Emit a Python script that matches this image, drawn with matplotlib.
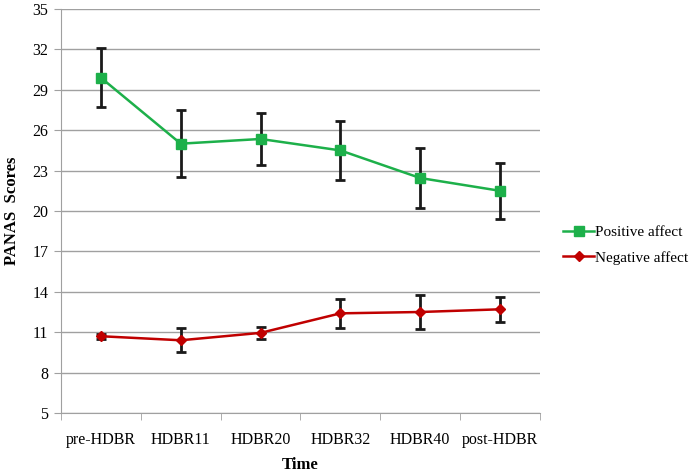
import numpy as np
import matplotlib
matplotlib.use("Agg")
from matplotlib import pyplot as plt

# dados
tempos = ["pre-HDBR", "HDBR11", "HDBR20", "HDBR32", "HDBR40", "post-HDBR"]
positivo = [29.9, 25.0, 25.35, 24.5, 22.45, 21.5]
positivo_err = [2.2, 2.5, 1.9, 2.2, 2.2, 2.1]
negativo = [10.7, 10.4, 10.95, 12.4, 12.5, 12.7]
negativo_err = [0.2, 0.9, 0.45, 1.1, 1.25, 0.95]
yticks = [5, 8, 11, 14, 17, 20, 23, 26, 29, 32, 35]

plt.rcParams['font.family'] = ['Liberation Serif', 'DejaVu Serif']

fig = plt.figure(figsize=(6.98, 4.76), dpi=100)
ax = fig.add_axes([0.0874, 0.1324, 0.6862, 0.8486])

x = np.arange(len(tempos))
cinza = '#a0a0a0'

ax.errorbar(x, positivo, yerr=positivo_err, color='#1db04a', lw=1.8,
            marker='s', ms=7, ecolor='#1a1a1a', elinewidth=2, capsize=3.5,
            capthick=2, label='Positive affect', zorder=3)
ax.errorbar(x, negativo, yerr=negativo_err, color='#c00000', lw=1.8,
            marker='D', ms=5, ecolor='#1a1a1a', elinewidth=2, capsize=3.5,
            capthick=2, label='Negative affect', zorder=3)

ax.set_xlim(-0.5, len(tempos) - 0.5)
ax.set_ylim(5, 35)
ax.set_yticks(yticks)
ax.yaxis.grid(True, color=cinza, lw=1)
ax.set_axisbelow(True)

ax.set_xticks(x)
ax.set_xticklabels(tempos)
ax.set_xticks(np.arange(len(tempos) + 1) - 0.5, minor=True)
ax.tick_params(axis='x', which='major', length=0, pad=14, labelsize=11.5)
ax.tick_params(axis='x', which='minor', length=5, color=cinza, direction='out')
ax.tick_params(axis='y', length=5, color=cinza, labelsize=11.5, pad=4)

for s in ['top', 'right']:
    ax.spines[s].set_visible(False)
for s in ['left', 'bottom']:
    ax.spines[s].set_color(cinza)

ax.set_ylabel('PANAS  Scores', fontsize=12, fontweight='bold', labelpad=9)
ax.set_xlabel('Time', fontsize=12, fontweight='bold', labelpad=6)

h, l = ax.get_legend_handles_labels()
h = [hh[0] for hh in h]
fig.legend(h, l, loc='center left', bbox_to_anchor=(0.807, 0.485), frameon=False,
           fontsize=11, handlelength=2.0, handletextpad=0.1, labelspacing=0.75,
           borderaxespad=0, borderpad=0)

fig.savefig('out.png', dpi=100)
